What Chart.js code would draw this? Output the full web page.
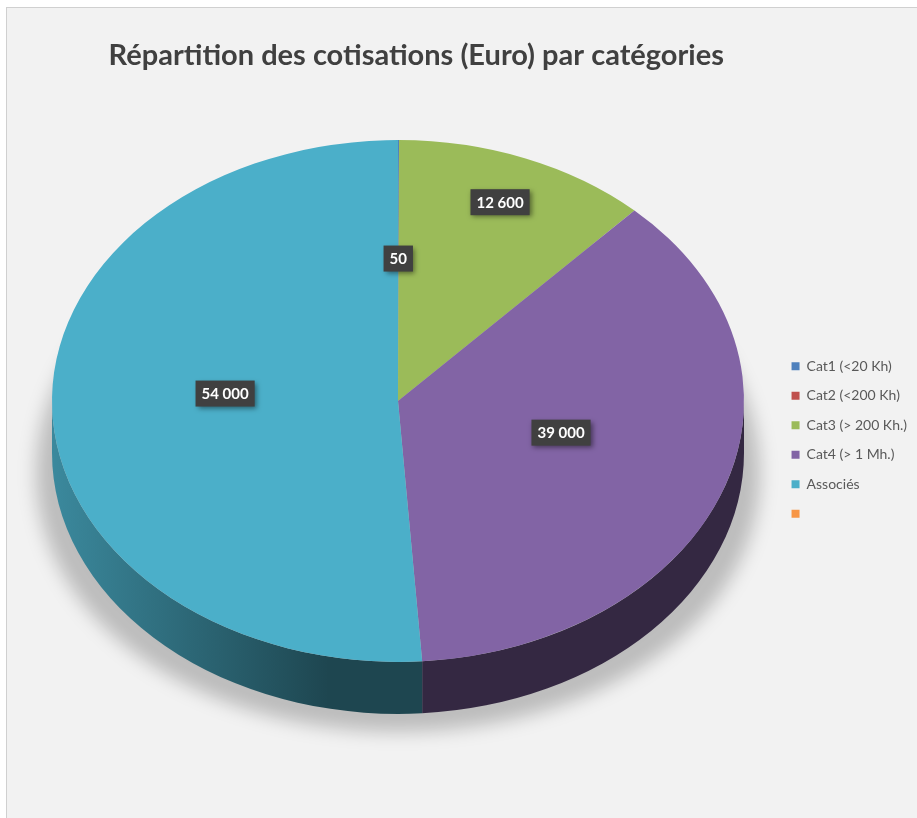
<!DOCTYPE html>
<html lang="fr">
<head>
  <meta charset="UTF-8" />
  <title>Répartition des cotisations</title>
  <script src="https://cdn.jsdelivr.net/npm/chart.js"></script>
  <style>
    html, body {
      margin: 0;
      padding: 0;
      background: #ffffff;
    }
    .frame {
      position: absolute;
      left: 6px;
      top: 7px;
      width: 911px;
      height: 811px;
      box-sizing: border-box;
      background: #f2f2f2;
      border-left: 1px solid #d0d0d0;
      border-top: 1px solid #d0d0d0;
    }
    #pie { display: block; }
  </style>
</head>
<body>
  <div class="frame">
    <canvas id="pie" width="910" height="810"></canvas>
  </div>

  <script>
    const categories = ['Cat1 (<20 Kh)', 'Cat2 (<200 Kh)', 'Cat3 (> 200 Kh.)', 'Cat4 (> 1 Mh.)', 'Associés', ''];
    const cotisations = [50, 0, 12600, 39000, 54000, 0];
    const colors = ['#4f81bd', '#c0504d', '#9bbb59', '#8264a5', '#4bafc9', '#f79646'];

    // 3D look: the flat pie is squashed vertically and given a side wall
    const TILT = 0.754;
    const DEPTH = 52;
    const PIE_CENTER = { x: 391, y: 393 };
    // perspective pulls the visual hub of the disc a bit above the ellipse centre
    const HUB_LIFT = 24;

    function shade(hex, k) {
      const n = parseInt(hex.slice(1), 16);
      const r = Math.round(((n >> 16) & 255) * k);
      const g = Math.round(((n >> 8) & 255) * k);
      const b = Math.round((n & 255) * k);
      return `rgb(${r},${g},${b})`;
    }

    function fmt(v) {
      return String(v).replace(/\B(?=(\d{3})+(?!\d))/g, ' ');
    }

    // point at a fraction f of the radius along angle, on the tilted top face
    function project(angle, r, f) {
      return {
        x: PIE_CENTER.x + f * r * Math.cos(angle),
        y: PIE_CENTER.y + f * r * TILT * Math.sin(angle) - HUB_LIFT * (1 - f)
      };
    }

    const pieBody = {
      id: 'pieBody',
      beforeDatasetsDraw(chart) {
        const ctx = chart.ctx;
        const arcs = chart.getDatasetMeta(0).data;
        const r = arcs[0].outerRadius;
        const ry = r * TILT;
        const cx = PIE_CENTER.x, cy = PIE_CENTER.y;

        // soft shadow on the floor, spreading out towards the front
        ctx.save();
        ctx.filter = 'blur(9px)';
        ctx.fillStyle = 'rgba(0,0,0,0.22)';
        ctx.beginPath();
        for (let k = 0; k <= 120; k++) {
          const t = (k / 120) * Math.PI * 2;
          const front = (1 + Math.sin(t)) / 2;
          const x = cx + r * Math.cos(t) * (1 + 0.09 * front);
          const y = cy + DEPTH + ry * Math.sin(t) + 18 * front;
          if (k === 0) ctx.moveTo(x, y); else ctx.lineTo(x, y);
        }
        ctx.closePath();
        ctx.fill();
        ctx.restore();

        // front wall of each slice
        arcs.forEach((arc, i) => {
          const a0 = Math.max(arc.startAngle, 0);
          const a1 = Math.min(arc.endAngle, Math.PI);
          if (a1 <= a0) return;
          const grad = ctx.createLinearGradient(cx - r, 0, cx - 0.2 * r, 0);
          grad.addColorStop(0, shade(colors[i], 0.78));
          grad.addColorStop(1, shade(colors[i], 0.4));
          ctx.fillStyle = grad;
          ctx.beginPath();
          ctx.ellipse(cx, cy, r, ry, 0, a0, a1);
          ctx.ellipse(cx, cy + DEPTH, r, ry, 0, a1, a0, true);
          ctx.closePath();
          ctx.fill();
        });

        // top face: draw the library's arcs squashed
        ctx.save();
        ctx.translate(cx, cy);
        ctx.scale(1, TILT);
        ctx.translate(-arcs[0].x, -arcs[0].y);
      },
      afterDatasetsDraw(chart) {
        chart.ctx.restore();
      }
    };

    const sliceLabels = {
      id: 'sliceLabels',
      afterDatasetsDraw(chart) {
        const ctx = chart.ctx;
        const arcs = chart.getDatasetMeta(0).data;
        const total = cotisations.reduce((a, b) => a + b, 0);
        ctx.save();
        ctx.font = 'bold 15px Lato';
        ctx.textAlign = 'center';
        ctx.textBaseline = 'middle';
        arcs.forEach((arc, i) => {
          const v = cotisations[i];
          if (!v) return;
          const share = v / total;
          const f = share < 0.01 ? 0.5 : share < 0.2 ? 0.8 : 0.5;
          const mid = (arc.startAngle + arc.endAngle) / 2;
          const p = project(mid, arc.outerRadius, f);
          const text = fmt(v);
          const w = ctx.measureText(text).width + 12;
          const h = 26;
          ctx.shadowColor = 'rgba(0,0,0,0.45)';
          ctx.shadowBlur = 5;
          ctx.shadowOffsetX = 2;
          ctx.shadowOffsetY = 2;
          ctx.fillStyle = '#404040';
          ctx.fillRect(p.x - w / 2, p.y - h / 2, w, h);
          ctx.shadowColor = 'transparent';
          ctx.fillStyle = '#ffffff';
          ctx.fillText(text, p.x, p.y + 1);
        });
        ctx.restore();
      }
    };

    new Chart(document.getElementById('pie'), {
      type: 'pie',
      data: {
        labels: categories,
        datasets: [{
          data: cotisations,
          backgroundColor: colors,
          borderWidth: 0,
          radius: 346,
          clip: false
        }]
      },
      options: {
        responsive: false,
        animation: false,
        events: [],
        layout: {
          padding: { left: 49.5, right: 0, top: 0, bottom: 36 }
        },
        plugins: {
          title: {
            display: true,
            text: 'Répartition des cotisations (Euro) par catégories',
            color: '#404040',
            fullSize: false,
            font: { family: 'Lato', size: 29, weight: 'bold' },
            padding: { top: 30, bottom: 25.2 }
          },
          legend: {
            position: 'right',
            align: 'center',
            fullSize: false,
            labels: {
              boxWidth: 8,
              boxHeight: 8,
              padding: 15.5,
              color: '#595959',
              font: { family: 'Lato', size: 14 }
            }
          },
          tooltip: { enabled: false }
        }
      },
      plugins: [pieBody, sliceLabels]
    });
  </script>
</body>
</html>
